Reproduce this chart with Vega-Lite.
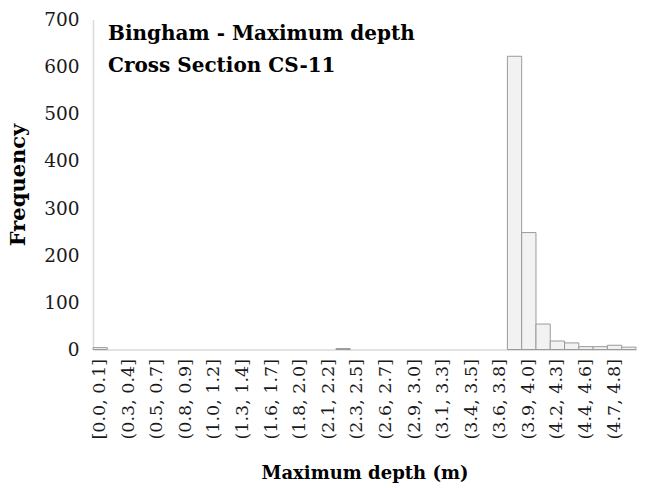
{
  "$schema": "https://vega.github.io/schema/vega-lite/v6.json",
  "width": 543,
  "height": 330,
  "autosize": {"type": "none"},
  "padding": {"left": 93, "top": 19.5, "right": 22, "bottom": 138.5},
  "background": "white",
  "title": {
    "text": ["Bingham - Maximum depth", "Cross Section CS-11"],
    "anchor": "start",
    "frame": "group",
    "orient": "top",
    "offset": 0,
    "dx": 15,
    "dy": 65,
    "font": "DejaVu Serif",
    "fontSize": 20,
    "fontWeight": "bold",
    "lineHeight": 32,
    "color": "#000000"
  },
  "data": {
    "values": [
      {"bin": "[0.0, 0.1]", "count": 4},
      {"bin": "(0.1, 0.3]", "count": 0},
      {"bin": "(0.3, 0.4]", "count": 0},
      {"bin": "(0.4, 0.5]", "count": 0},
      {"bin": "(0.5, 0.7]", "count": 0},
      {"bin": "(0.7, 0.8]", "count": 0},
      {"bin": "(0.8, 0.9]", "count": 0},
      {"bin": "(0.9, 1.0]", "count": 0},
      {"bin": "(1.0, 1.2]", "count": 0},
      {"bin": "(1.2, 1.3]", "count": 0},
      {"bin": "(1.3, 1.4]", "count": 0},
      {"bin": "(1.4, 1.6]", "count": 0},
      {"bin": "(1.6, 1.7]", "count": 0},
      {"bin": "(1.7, 1.8]", "count": 0},
      {"bin": "(1.8, 2.0]", "count": 0},
      {"bin": "(2.0, 2.1]", "count": 0},
      {"bin": "(2.1, 2.2]", "count": 0},
      {"bin": "(2.2, 2.3]", "count": 2},
      {"bin": "(2.3, 2.5]", "count": 0},
      {"bin": "(2.5, 2.6]", "count": 0},
      {"bin": "(2.6, 2.7]", "count": 0},
      {"bin": "(2.7, 2.9]", "count": 0},
      {"bin": "(2.9, 3.0]", "count": 0},
      {"bin": "(3.0, 3.1]", "count": 0},
      {"bin": "(3.1, 3.3]", "count": 0},
      {"bin": "(3.3, 3.4]", "count": 0},
      {"bin": "(3.4, 3.5]", "count": 0},
      {"bin": "(3.5, 3.6]", "count": 0},
      {"bin": "(3.6, 3.8]", "count": 0},
      {"bin": "(3.8, 3.9]", "count": 622},
      {"bin": "(3.9, 4.0]", "count": 248},
      {"bin": "(4.0, 4.2]", "count": 54},
      {"bin": "(4.2, 4.3]", "count": 18},
      {"bin": "(4.3, 4.4]", "count": 14},
      {"bin": "(4.4, 4.6]", "count": 6},
      {"bin": "(4.6, 4.7]", "count": 6},
      {"bin": "(4.7, 4.8]", "count": 9},
      {"bin": "(4.8, 4.9]", "count": 5}
    ]
  },
  "mark": {"type": "bar", "fill": "#f2f2f2", "stroke": "#9a9a9a", "strokeWidth": 1},
  "encoding": {
    "x": {
      "field": "bin",
      "type": "nominal",
      "sort": null,
      "scale": {"paddingInner": 0, "paddingOuter": 0},
      "axis": {
        "title": "Maximum depth (m)",
        "values": ["[0.0, 0.1]", "(0.3, 0.4]", "(0.5, 0.7]", "(0.8, 0.9]", "(1.0, 1.2]", "(1.3, 1.4]", "(1.6, 1.7]", "(1.8, 2.0]", "(2.1, 2.2]", "(2.3, 2.5]", "(2.6, 2.7]", "(2.9, 3.0]", "(3.1, 3.3]", "(3.4, 3.5]", "(3.6, 3.8]", "(3.9, 4.0]", "(4.2, 4.3]", "(4.4, 4.6]", "(4.7, 4.8]"],
        "labelAngle": -90,
        "labelFont": "DejaVu Serif",
        "labelFontSize": 17.5,
        "labelColor": "#1a1a1a",
        "labelPadding": 9,
        "ticks": false,
        "domainColor": "#d9d9d9",
        "domainWidth": 1.5,
        "titleFont": "DejaVu Serif",
        "titleFontSize": 18,
        "titleFontWeight": "bold",
        "titleColor": "#000000",
        "titlePadding": 26
      }
    },
    "y": {
      "field": "count",
      "type": "quantitative",
      "scale": {"domain": [0, 700], "nice": false},
      "axis": {
        "title": "Frequency",
        "values": [0, 100, 200, 300, 400, 500, 600, 700],
        "grid": false,
        "ticks": false,
        "labelFont": "DejaVu Serif",
        "labelFontSize": 18.5,
        "labelColor": "#1a1a1a",
        "labelPadding": 14,
        "domainColor": "#d9d9d9",
        "domainWidth": 1.5,
        "titleFont": "DejaVu Serif",
        "titleFontSize": 21,
        "titleFontWeight": "bold",
        "titleColor": "#000000",
        "titlePadding": 15
      }
    },
    "strokeOpacity": {"condition": {"test": "datum.count == 0", "value": 0}, "value": 1}
  },
  "config": {"view": {"stroke": null}}
}
